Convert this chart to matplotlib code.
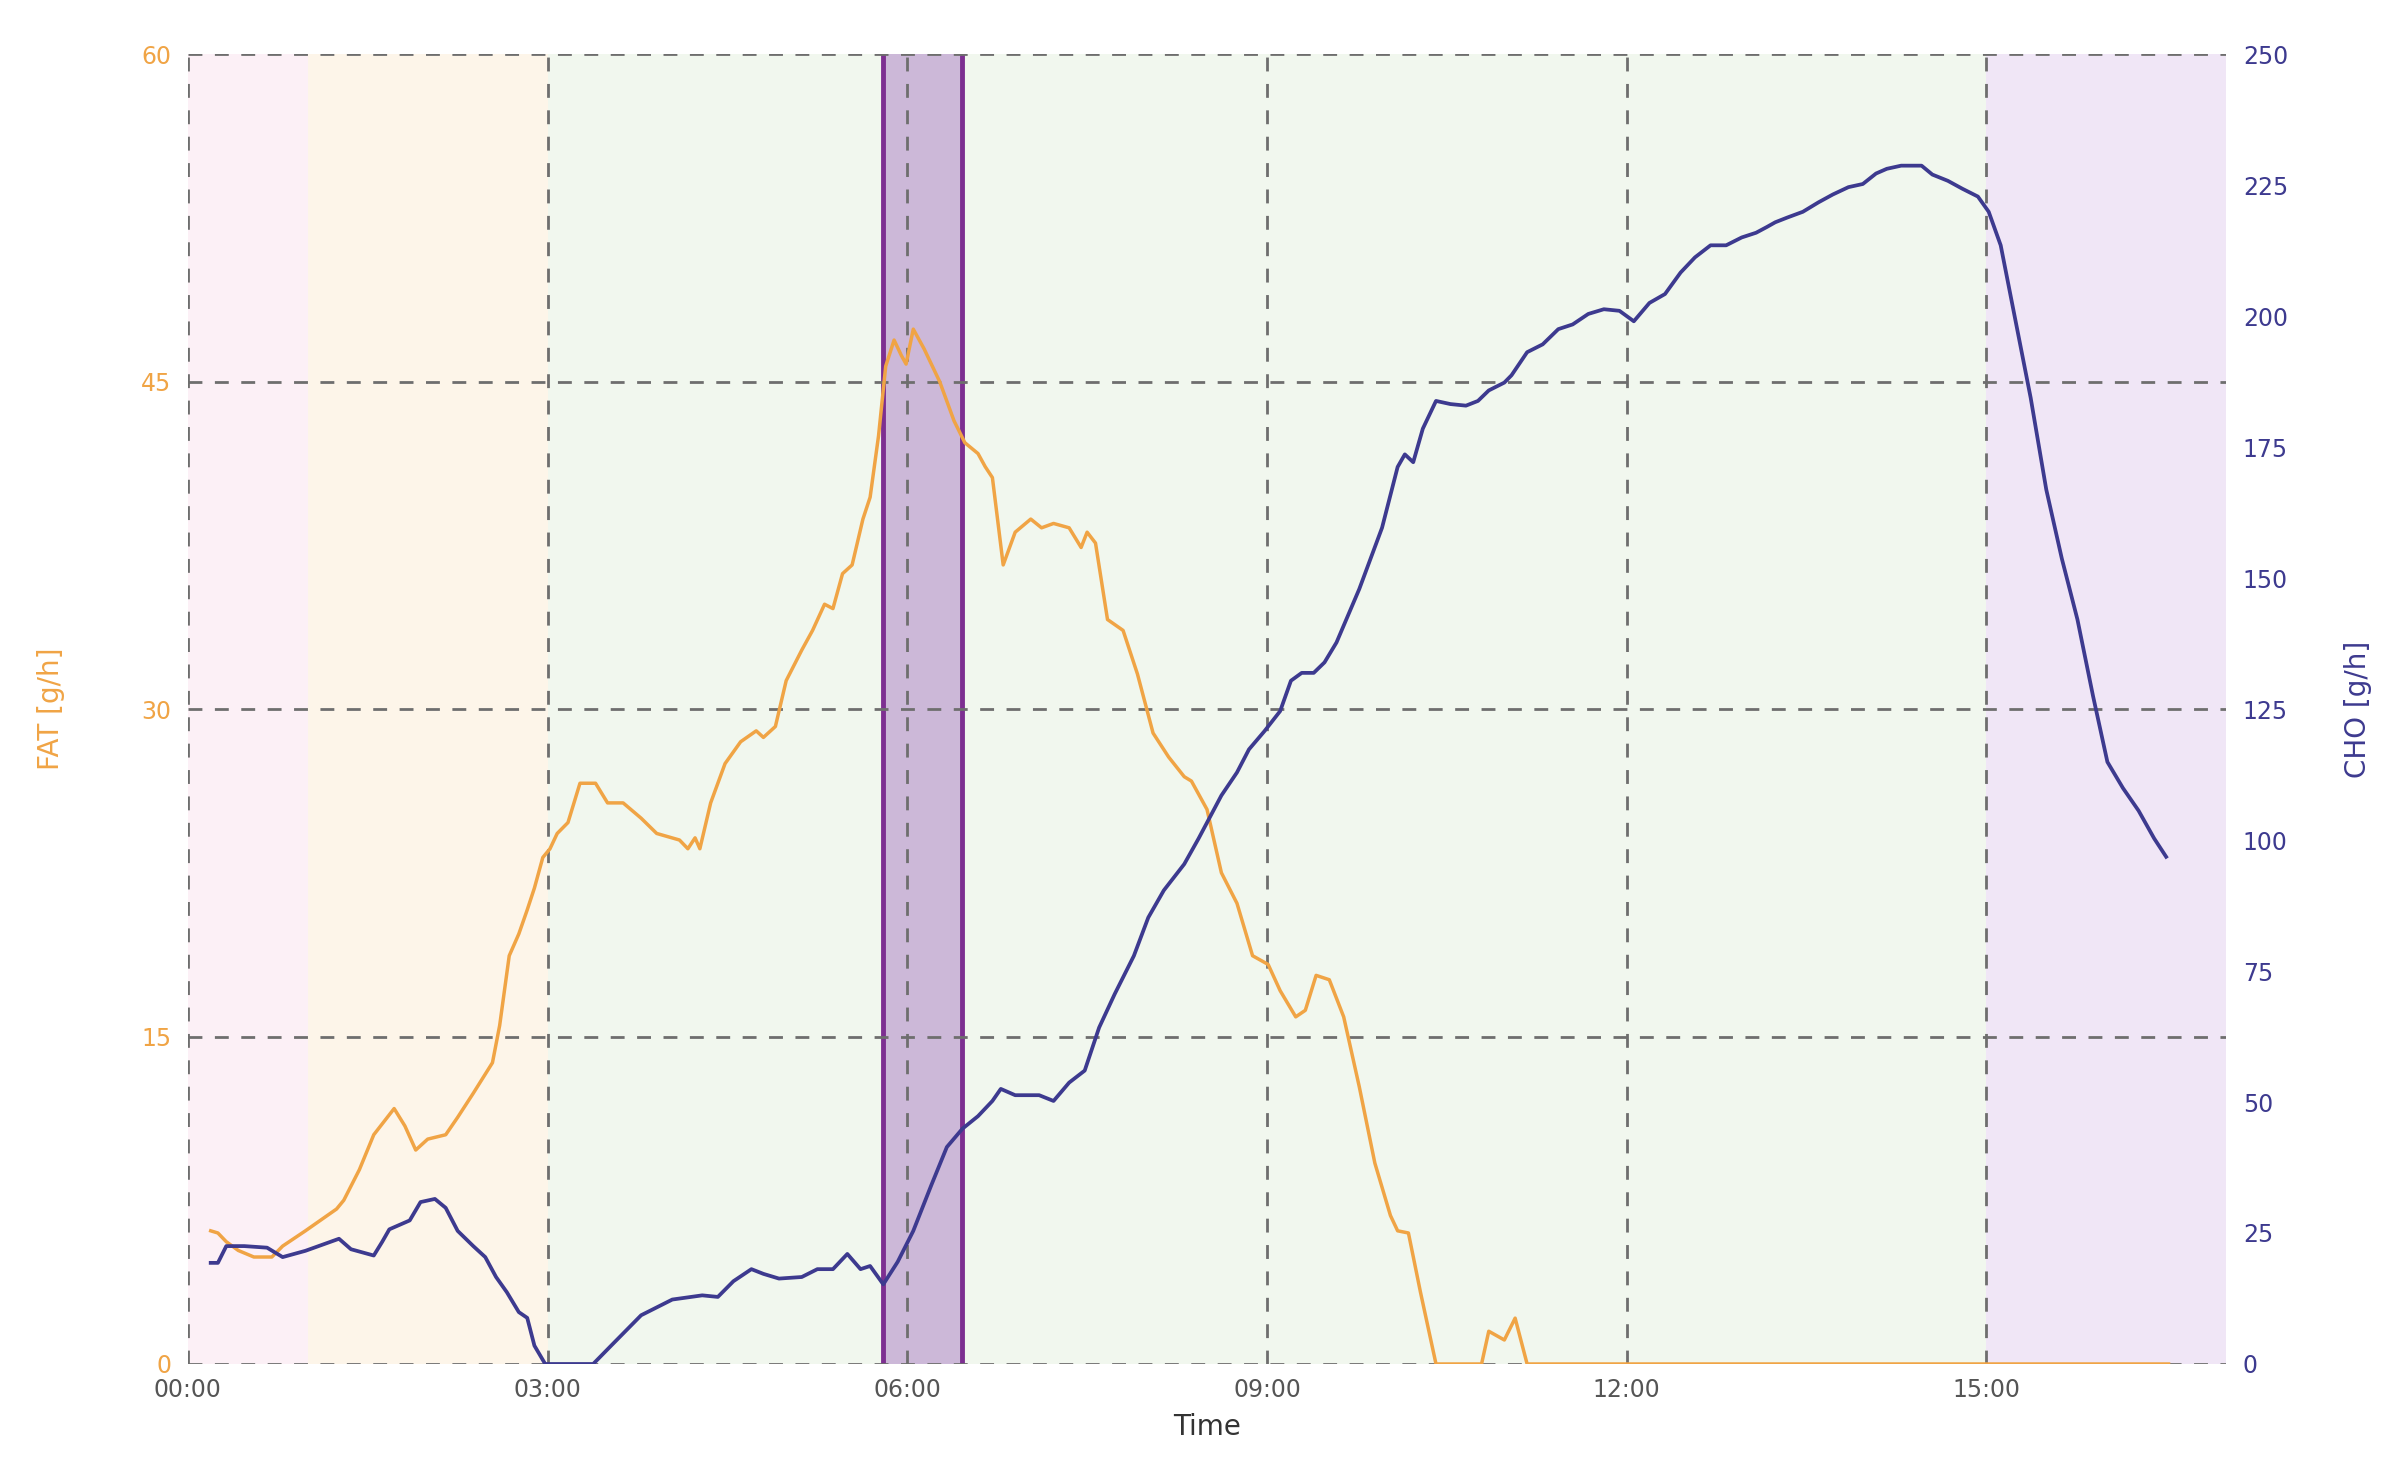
import matplotlib.pyplot as plt
import numpy as np
from matplotlib.ticker import FuncFormatter, MultipleLocator

# fat oxidation, time in hours since 00:00
fat_t = [0.19, 0.25, 0.32, 0.42, 0.55, 0.70, 0.79, 0.98, 1.24, 1.30, 1.43, 1.55, 1.72, 1.81,
         1.90, 2.00, 2.15, 2.25, 2.38, 2.54, 2.60, 2.68, 2.76, 2.83, 2.89, 2.96, 3.02, 3.08,
         3.17, 3.27, 3.40, 3.50, 3.63, 3.78, 3.91, 4.10, 4.17, 4.23, 4.27, 4.36, 4.48, 4.61,
         4.74, 4.80, 4.90, 4.99, 5.12, 5.21, 5.31, 5.38, 5.46, 5.54, 5.63, 5.69, 5.76, 5.82,
         5.89, 5.95, 5.99, 6.05, 6.14, 6.27, 6.39, 6.48, 6.59, 6.65, 6.71, 6.80, 6.90, 7.03,
         7.12, 7.22, 7.35, 7.45, 7.50, 7.57, 7.67, 7.80, 7.92, 8.05, 8.18, 8.31, 8.37, 8.50,
         8.62, 8.75, 8.88, 9.01, 9.11, 9.24, 9.32, 9.41, 9.52, 9.64, 9.77, 9.90, 10.03, 10.09,
         10.18, 10.28, 10.41, 10.79, 10.85, 10.98, 11.07, 11.17, 16.52]
fat = [6.1, 6.0, 5.6, 5.2, 4.9, 4.9, 5.4, 6.1, 7.1, 7.5, 8.9, 10.5, 11.7, 10.9,
       9.8, 10.3, 10.5, 11.3, 12.4, 13.8, 15.5, 18.7, 19.7, 20.8, 21.8, 23.2, 23.6, 24.3,
       24.8, 26.6, 26.6, 25.7, 25.7, 25.0, 24.3, 24.0, 23.6, 24.1, 23.6, 25.7, 27.5, 28.5,
       29.0, 28.7, 29.2, 31.3, 32.7, 33.6, 34.8, 34.6, 36.2, 36.6, 38.7, 39.7, 42.5, 45.7,
       46.9, 46.2, 45.8, 47.4, 46.5, 45.0, 43.2, 42.2, 41.7, 41.1, 40.6, 36.6, 38.1, 38.7,
       38.3, 38.5, 38.3, 37.4, 38.1, 37.6, 34.1, 33.6, 31.6, 28.9, 27.8, 26.9, 26.7, 25.4,
       22.5, 21.1, 18.7, 18.3, 17.1, 15.9, 16.2, 17.8, 17.6, 15.9, 12.7, 9.2, 6.8, 6.1,
       6.0, 3.3, 0.0, 0.0, 1.5, 1.1, 2.1, 0.0, 0.0]

# carbohydrate oxidation
cho_t = [0.19, 0.25, 0.32, 0.47, 0.66, 0.79, 0.98, 1.26, 1.36, 1.55, 1.62, 1.68, 1.85, 1.94,
         2.06, 2.15, 2.25, 2.38, 2.48, 2.57, 2.66, 2.76, 2.83, 2.89, 2.98, 3.38, 3.53, 3.78,
         4.04, 4.29, 4.42, 4.55, 4.70, 4.80, 4.93, 5.12, 5.25, 5.38, 5.50, 5.61, 5.69, 5.80,
         5.92, 6.05, 6.20, 6.33, 6.46, 6.59, 6.71, 6.78, 6.90, 7.10, 7.22, 7.35, 7.48, 7.60,
         7.73, 7.89, 8.01, 8.14, 8.31, 8.43, 8.62, 8.75, 8.85, 8.98, 9.11, 9.20, 9.29, 9.39,
         9.48, 9.58, 9.77, 9.96, 10.09, 10.15, 10.22, 10.30, 10.41, 10.53, 10.66, 10.76, 10.85,
         10.98, 11.04, 11.17, 11.30, 11.43, 11.55, 11.68, 11.81, 11.94, 12.06, 12.19, 12.32,
         12.45, 12.57, 12.70, 12.83, 12.96, 13.08, 13.17, 13.24, 13.34, 13.47, 13.60, 13.72,
         13.85, 13.97, 14.08, 14.17, 14.29, 14.46, 14.55, 14.68, 14.80, 14.93, 15.02, 15.12,
         15.22, 15.37, 15.50, 15.63, 15.76, 15.89, 16.01, 16.14, 16.27, 16.40, 16.50]
cho = [19.3, 19.3, 22.5, 22.5, 22.2, 20.4, 21.6, 23.9, 21.9, 20.7, 23.3, 25.7, 27.4, 30.9,
       31.5, 29.8, 25.4, 22.5, 20.4, 16.6, 13.7, 9.9, 8.8, 3.5, 0.0, 0.0, 3.5, 9.3,
       12.3, 13.1, 12.8, 15.8, 18.1, 17.2, 16.3, 16.6, 18.1, 18.1, 21.0, 18.1, 18.7, 15.2,
       19.5, 25.4, 34.1, 41.4, 44.9, 47.3, 50.2, 52.5, 51.3, 51.3, 50.2, 53.7, 56.0, 64.2,
       70.6, 77.9, 85.2, 90.4, 95.4, 100.3, 108.5, 112.9, 117.3, 120.8, 124.6, 130.4, 131.9, 131.9,
       133.9, 137.7, 147.9, 159.6, 171.2, 173.6, 172.1, 178.5, 183.8, 183.2, 182.9, 183.8, 185.8,
       187.3, 188.7, 193.1, 194.6, 197.5, 198.4, 200.4, 201.3, 201.0, 199.0, 202.5, 204.2,
       208.3, 211.2, 213.5, 213.5, 215.0, 215.9, 217.0, 217.9, 218.8, 219.9, 221.7, 223.2,
       224.6, 225.2, 227.2, 228.1, 228.7, 228.7, 227.0, 225.8, 224.3, 222.8, 219.9, 213.5,
       201.9, 184.4, 166.9, 153.7, 142.1, 127.5, 114.9, 109.9, 105.6, 100.3, 96.8]

# background zones (start h, end h, colour) and highlighted interval
zones = [(0, 1, '#fcf0f6'), (1, 3, '#fdf5e9'), (3, 15, '#f1f7ee'), (15, 17, '#f0e6f6')]
band = (5.80, 6.46)

fat_col = '#f0a445'
cho_col = '#3d3a8f'

fig = plt.figure(figsize=(23.97, 14.61), dpi=100)
ax = fig.add_axes([0.0784, 0.0664, 0.8503, 0.8966])
ax2 = ax.twinx()

for z0, z1, c in zones:
    ax.axvspan(z0, z1, color=c, zorder=0, lw=0)
ax.axvspan(band[0], band[1], color='#ccb8d8', zorder=1, lw=0)
for b in band:
    ax.axvline(b, color='#7d2f91', lw=3.5, zorder=2)

ax.plot(fat_t, fat, color=fat_col, lw=2.5, zorder=3)
ax2.plot(cho_t, cho, color=cho_col, lw=2.7, zorder=3)

ax.set_xlim(0, 17)
ax.set_ylim(0, 60)
ax2.set_ylim(0, 250)
ax.xaxis.set_major_locator(MultipleLocator(3))
ax.xaxis.set_major_formatter(FuncFormatter(lambda v, p: '%02d:00' % int(v)))
ax.set_yticks([0, 15, 30, 45, 60])
ax2.set_yticks(np.arange(0, 251, 25))

ax.grid(True, color='#6e6e6e', ls=(0, (5, 4.5)), lw=2.0, zorder=2)
ax.set_axisbelow(False)
for a in (ax, ax2):
    for s in a.spines.values():
        s.set_visible(False)

ax.tick_params(axis='x', length=0, labelsize=17, labelcolor='#555555', pad=10)
ax.tick_params(axis='y', length=0, labelsize=17, labelcolor=fat_col, pad=12)
ax2.tick_params(axis='y', length=0, labelsize=17, labelcolor=cho_col, pad=12)

ax.set_xlabel('Time', fontsize=20, color='#333333', labelpad=8)
ax.set_ylabel('FAT [g/h]', fontsize=20, color=fat_col, labelpad=55)
ax2.set_ylabel('CHO [g/h]', fontsize=20, color=cho_col, labelpad=40)

plt.savefig('out.png', dpi=100)
